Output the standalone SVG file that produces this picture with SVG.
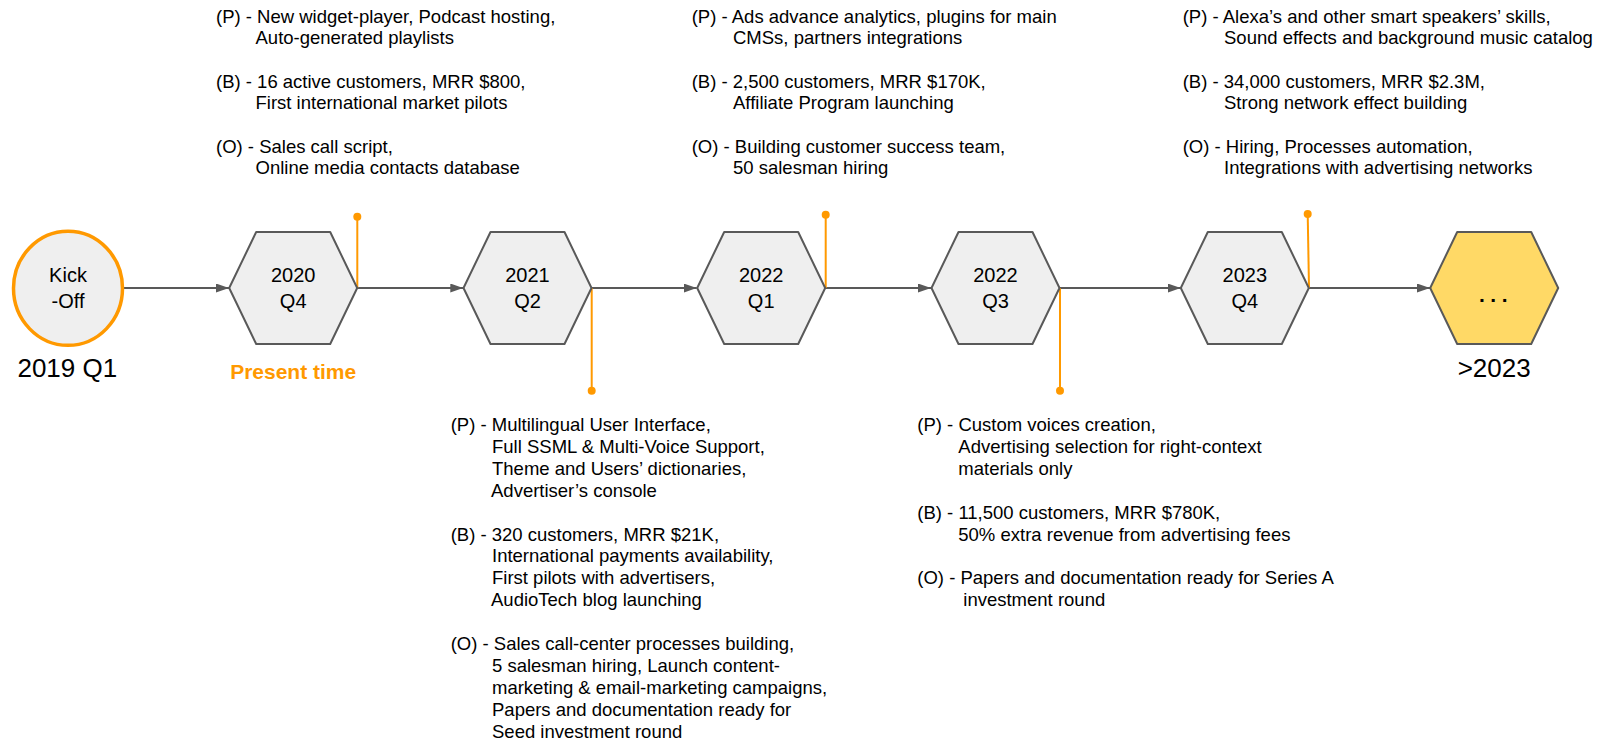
<svg xmlns="http://www.w3.org/2000/svg" width="1610" height="741" viewBox="0 0 1610 741">
<style>
.hex{fill:#efefef;stroke:#595959;stroke-width:2;stroke-linejoin:round}
.hexy{fill:#ffd966;stroke:#595959;stroke-width:2;stroke-linejoin:round}
.lbl{font-family:"Liberation Sans",Arial,sans-serif;font-size:20px;fill:#000;text-anchor:middle}
.big{font-family:"Liberation Sans",Arial,sans-serif;font-size:26px;fill:#000;text-anchor:middle}
.note{font-family:"Liberation Sans",Arial,sans-serif;font-size:18.5px;fill:#000}
.edge{stroke:#595959;stroke-width:2;fill:none}
.pin{stroke:#ff9900;stroke-width:2;fill:none}
.dot{fill:#ff9900}
</style>
<defs>
<marker id="arr" markerWidth="13" markerHeight="9" refX="13" refY="4.5" orient="auto" markerUnits="userSpaceOnUse">
<path d="M0,0 L13,4.5 L0,9 Z" fill="#595959"/>
</marker>
</defs>
<rect width="1610" height="741" fill="#fff"/>

<g id="connectors">
<line class="edge" x1="124" y1="288" x2="229" y2="288" marker-end="url(#arr)"/>
<line class="edge" x1="357.3" y1="288" x2="463.3" y2="288" marker-end="url(#arr)"/>
<line class="edge" x1="591.7" y1="288" x2="696.7" y2="288" marker-end="url(#arr)"/>
<line class="edge" x1="825.7" y1="288" x2="931" y2="288" marker-end="url(#arr)"/>
<line class="edge" x1="1060" y1="288" x2="1180.7" y2="288" marker-end="url(#arr)"/>
<line class="edge" x1="1309" y1="288" x2="1430" y2="288" marker-end="url(#arr)"/>
<line class="pin" x1="357.3" y1="288" x2="357.3" y2="216.7"/>
<circle class="dot" cx="357.3" cy="216.7" r="4"/>
<line class="pin" x1="591.7" y1="288" x2="591.7" y2="390.7"/>
<circle class="dot" cx="591.7" cy="390.7" r="4"/>
<line class="pin" x1="825.7" y1="288" x2="825.7" y2="214.7"/>
<circle class="dot" cx="825.7" cy="214.7" r="4"/>
<line class="pin" x1="1060" y1="288" x2="1060" y2="390.7"/>
<circle class="dot" cx="1060" cy="390.7" r="4"/>
<line class="pin" x1="1309" y1="288" x2="1307.7" y2="214"/>
<circle class="dot" cx="1307.7" cy="214" r="4"/>
</g>

<g id="kickoff">
<ellipse cx="68" cy="288.3" rx="54.5" ry="57" fill="#efefef" stroke="#ff9900" stroke-width="3.5"/>
<text class="lbl" x="68" y="281.7">Kick</text>
<text class="lbl" x="68" y="307.5">-Off</text>
<text class="big" x="67.3" y="376.7">2019 Q1</text>
</g>

<g id="n2020q4">
<polygon class="hex" points="229.2,288 256.2,232 330.2,232 357.2,288 330.2,344 256.2,344"/>
<text class="lbl" x="293.2" y="281.7">2020</text>
<text class="lbl" x="293.2" y="307.5">Q4</text>
<text x="293.2" y="379.3" font-family="Liberation Sans,Arial,sans-serif" font-size="21" font-weight="bold" fill="#ff9900" text-anchor="middle">Present time</text>
</g>

<g id="n2021q2">
<polygon class="hex" points="463.5,288 490.5,232 564.5,232 591.5,288 564.5,344 490.5,344"/>
<text class="lbl" x="527.5" y="281.7">2021</text>
<text class="lbl" x="527.5" y="307.5">Q2</text>
</g>

<g id="n2022q1">
<polygon class="hex" points="697.2,288 724.2,232 798.2,232 825.2,288 798.2,344 724.2,344"/>
<text class="lbl" x="761.2" y="281.7">2022</text>
<text class="lbl" x="761.2" y="307.5">Q1</text>
</g>

<g id="n2022q3">
<polygon class="hex" points="931.5,288 958.5,232 1032.5,232 1059.5,288 1032.5,344 958.5,344"/>
<text class="lbl" x="995.5" y="281.7">2022</text>
<text class="lbl" x="995.5" y="307.5">Q3</text>
</g>

<g id="n2023q4">
<polygon class="hex" points="1180.8,288 1207.8,232 1281.8,232 1308.8,288 1281.8,344 1207.8,344"/>
<text class="lbl" x="1244.8" y="281.7">2023</text>
<text class="lbl" x="1244.8" y="307.5">Q4</text>
</g>

<g id="future">
<polygon class="hexy" points="1430.2,288 1457.2,232 1531.2,232 1558.2,288 1531.2,344 1457.2,344"/>
<text x="1496" y="302" font-family="Liberation Sans,Arial,sans-serif" font-size="21" font-weight="bold" letter-spacing="5.5" text-anchor="middle">...</text>
<text class="big" x="1494.2" y="376.7">&gt;2023</text>
</g>

<g id="notes-2020q4">
<text class="note" x="216" y="22.5">(P) - New widget-player, Podcast hosting,</text>
<text class="note" x="255.5" y="44.2">Auto-generated playlists</text>
<text class="note" x="216" y="87.6">(B) - 16 active customers, MRR $800,</text>
<text class="note" x="255.5" y="109.3">First international market pilots</text>
<text class="note" x="216" y="152.7">(O) - Sales call script,</text>
<text class="note" x="255.5" y="174.4">Online media contacts database</text>
</g>

<g id="notes-2022q1">
<text class="note" x="691.7" y="22.5">(P) - Ads advance analytics, plugins for main</text>
<text class="note" x="733" y="44.2">CMSs, partners integrations</text>
<text class="note" x="691.7" y="87.6">(B) - 2,500 customers, MRR $170K,</text>
<text class="note" x="733" y="109.3">Affiliate Program launching</text>
<text class="note" x="691.7" y="152.7">(O) - Building customer success team,</text>
<text class="note" x="733" y="174.4">50 salesman hiring</text>
</g>

<g id="notes-2023q4">
<text class="note" x="1182.7" y="22.5">(P) - Alexa’s and other smart speakers’ skills,</text>
<text class="note" x="1224" y="44.2">Sound effects and background music catalog</text>
<text class="note" x="1182.7" y="87.6">(B) - 34,000 customers, MRR $2.3M,</text>
<text class="note" x="1224" y="109.3">Strong network effect building</text>
<text class="note" x="1182.7" y="152.7">(O) - Hiring, Processes automation,</text>
<text class="note" x="1224" y="174.4">Integrations with advertising networks</text>
</g>

<g id="notes-2021q2">
<text class="note" x="450.7" y="431">(P) - Multilingual User Interface,</text>
<text class="note" x="492" y="452.9">Full SSML &amp; Multi-Voice Support,</text>
<text class="note" x="492" y="474.8">Theme and Users’ dictionaries,</text>
<text class="note" x="491" y="496.7">Advertiser’s console</text>
<text class="note" x="450.7" y="540.5">(B) - 320 customers, MRR $21K,</text>
<text class="note" x="492" y="562.4">International payments availability,</text>
<text class="note" x="492" y="584.3">First pilots with advertisers,</text>
<text class="note" x="491" y="606.2">AudioTech blog launching</text>
<text class="note" x="450.7" y="650">(O) - Sales call-center processes building,</text>
<text class="note" x="492" y="671.9">5 salesman hiring, Launch content-</text>
<text class="note" x="492" y="693.8">marketing &amp; email-marketing campaigns,</text>
<text class="note" x="492" y="715.7">Papers and documentation ready for</text>
<text class="note" x="492" y="737.6">Seed investment round</text>
</g>

<g id="notes-2022q3">
<text class="note" x="917.3" y="431">(P) - Custom voices creation,</text>
<text class="note" x="958.3" y="452.9">Advertising selection for right-context</text>
<text class="note" x="958.3" y="474.8">materials only</text>
<text class="note" x="917.3" y="518.6">(B) - 11,500 customers, MRR $780K,</text>
<text class="note" x="958.3" y="540.5">50% extra revenue from advertising fees</text>
<text class="note" x="917.3" y="584.3">(O) - Papers and documentation ready for Series A</text>
<text class="note" x="963.3" y="606.2">investment round</text>
</g>
</svg>
